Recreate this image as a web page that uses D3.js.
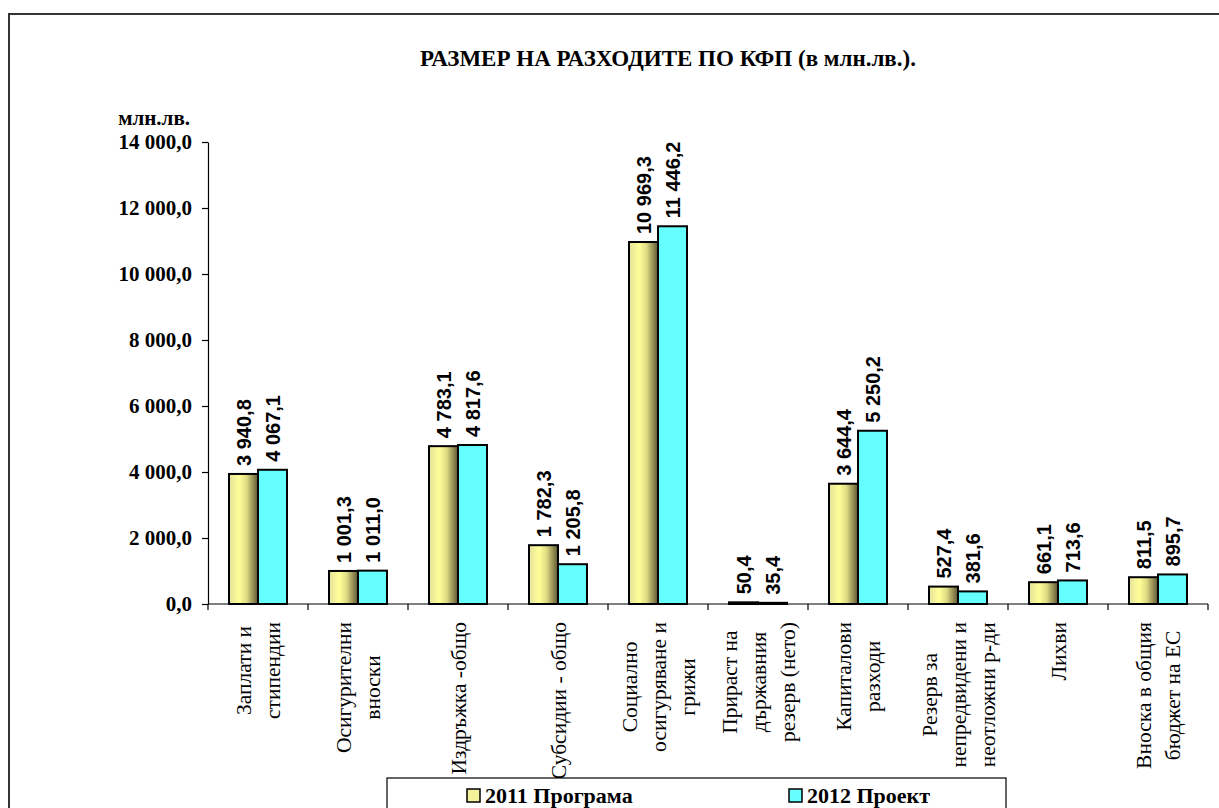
<!DOCTYPE html>
<html>
<head>
<meta charset="utf-8">
<script src="https://cdn.jsdelivr.net/npm/d3@7"></script>
<style>
body { margin: 0; background: #fff; }
</style>
</head>
<body>
<script>
// categories (line breaks as in the original axis labels)
var categories = [
	"Заплати и\nстипендии",
	"Осигурителни\nвноски",
	"Издръжка -общо",
	"Субсидии - общо",
	"Социално\nосигуряване и\nгрижи",
	"Прираст на\nдържавния\nрезерв (нето)",
	"Капиталови\nразходи",
	"Резерв за\nнепредвидени и\nнеотложни р-ди",
	"Лихви",
	"Вноска в общия\nбюджет на ЕС"
];
var seriesNames = ["2011 Програма", "2012 Проект"];
var values2011 = [3940.8, 1001.3, 4783.1, 1782.3, 10969.3, 50.4, 3644.4, 527.4, 661.1, 811.5];
var values2012 = [4067.1, 1011.0, 4817.6, 1205.8, 11446.2, 35.4, 5250.2, 381.6, 713.6, 895.7];
var yTicks = [0, 2000, 4000, 6000, 8000, 10000, 12000, 14000];

(function() {
var W = 1219, H = 808;
var serif = "'Liberation Serif', 'Times New Roman', serif";
var sans = "'Liberation Sans', Arial, sans-serif";

var locale = d3.formatLocale({decimal: ",", thousands: " ", grouping: [3], currency: ["", ""]});
var fmt = locale.format(",.1f");

var svg = d3.select("body").append("svg")
	.attr("width", W)
	.attr("height", H);

// gradient for the 2011 bars
var defs = svg.append("defs");
var grad = defs.append("linearGradient")
	.attr("id", "yellowGrad")
	.attr("x1", "0%").attr("x2", "100%")
	.attr("y1", "0%").attr("y2", "0%");
grad.append("stop").attr("offset", "0%").attr("stop-color", "#e4e19a");
grad.append("stop").attr("offset", "35%").attr("stop-color", "#ffff99");
grad.append("stop").attr("offset", "60%").attr("stop-color", "#e0dc84");
grad.append("stop").attr("offset", "100%").attr("stop-color", "#5e5632");

var colors = ["url(#yellowGrad)", "#66ffff"];

// outer frame
svg.append("rect")
	.attr("x", 9)
	.attr("y", 14)
	.attr("width", W + 20)
	.attr("height", H + 20)
	.attr("fill", "none")
	.attr("stroke", "#333")
	.attr("stroke-width", 2);

var pLeft = 208, pRight = 1208, pTop = 142, pBottom = 604;

var x0 = d3.scaleBand()
	.domain(categories)
	.range([pLeft, pRight])
	.paddingInner(0.42)
	.paddingOuter(0.21);

var x1 = d3.scaleBand()
	.domain([0, 1])
	.range([0, x0.bandwidth()]);

var y = d3.scaleLinear()
	.domain([0, 14000])
	.range([pBottom, pTop]);

var data = categories.map(function(c, i) {
	return {cat: c, vals: [values2011[i], values2012[i]]};
});

// title
svg.append("text")
	.attr("x", 668)
	.attr("y", 66)
	.attr("text-anchor", "middle")
	.attr("font-family", serif)
	.attr("font-weight", "bold")
	.attr("font-size", 23)
	.text("РАЗМЕР НА РАЗХОДИТЕ ПО КФП (в млн.лв.).");

// unit label
svg.append("text")
	.attr("x", 190)
	.attr("y", 125)
	.attr("text-anchor", "end")
	.attr("font-family", serif)
	.attr("font-weight", "bold")
	.attr("font-size", 21)
	.text("млн.лв.");

// y axis
var yAxis = svg.append("g")
	.attr("transform", "translate(" + pLeft + ",0)")
	.call(d3.axisLeft(y).tickValues(yTicks).tickFormat(fmt).tickSize(6).tickSizeOuter(0));
yAxis.select(".domain").attr("stroke", "#000").attr("stroke-width", 1.2);
yAxis.selectAll(".tick line").attr("stroke", "#000").attr("stroke-width", 1.2);
yAxis.selectAll(".tick text")
	.attr("x", -16)
	.attr("font-family", serif)
	.attr("font-weight", "bold")
	.attr("font-size", 21)
	.attr("fill", "#000");

// bars
var groups = svg.append("g").selectAll("g")
	.data(data)
	.enter().append("g")
	.attr("transform", function(d) { return "translate(" + x0(d.cat) + ",0)"; });

groups.selectAll("rect")
	.data(function(d) { return d.vals.map(function(v, k) { return {k: k, v: v}; }); })
	.enter().append("rect")
	.attr("x", function(d) { return x1(d.k); })
	.attr("y", function(d) { return y(d.v); })
	.attr("width", x1.bandwidth())
	.attr("height", function(d) { return pBottom - y(d.v); })
	.attr("fill", function(d) { return colors[d.k]; })
	.attr("stroke", "#000")
	.attr("stroke-width", 2);

// value labels
groups.selectAll("text.val")
	.data(function(d) { return d.vals.map(function(v, k) { return {k: k, v: v}; }); })
	.enter().append("text")
	.attr("class", "val")
	.attr("transform", function(d) {
		return "translate(" + (x1(d.k) + x1.bandwidth() / 2) + "," + (y(d.v) - 8) + ") rotate(-90)";
	})
	.attr("dy", "0.35em")
	.attr("text-anchor", "start")
	.attr("font-family", sans)
	.attr("font-weight", "bold")
	.attr("font-size", 20)
	.text(function(d) { return fmt(d.v); });

// x axis
var xAxis = svg.append("g")
	.attr("transform", "translate(0," + pBottom + ")");
xAxis.append("line")
	.attr("x1", pLeft).attr("x2", pRight)
	.attr("y1", 0).attr("y2", 0)
	.attr("stroke", "#000").attr("stroke-width", 1.2);
xAxis.selectAll("line.tk")
	.data(d3.range(categories.length + 1))
	.enter().append("line")
	.attr("class", "tk")
	.attr("x1", function(i) { return pLeft + i * x0.step(); })
	.attr("x2", function(i) { return pLeft + i * x0.step(); })
	.attr("y1", 0).attr("y2", 6)
	.attr("stroke", "#000").attr("stroke-width", 1.2);

// category labels, rotated, block top aligned below the axis
var lineGap = 29;
var labelTop = 622;
categories.forEach(function(c) {
	var lines = c.split("\n");
	var cx = x0(c) + x0.bandwidth() / 2;
	var g = svg.append("g");
	var texts = lines.map(function(l, i) {
		return g.append("text")
			.attr("text-anchor", "middle")
			.attr("dy", "0.35em")
			.attr("font-family", serif)
			.attr("font-size", 21.5)
			.text(l);
	});
	var maxLen = d3.max(texts, function(t) { return t.node().getComputedTextLength(); });
	texts.forEach(function(t, i) {
		var lx = cx + (i - (lines.length - 1) / 2) * lineGap;
		t.attr("transform", "translate(" + lx + "," + (labelTop + maxLen / 2) + ") rotate(-90)");
	});
});

// legend
var legend = svg.append("g");
legend.append("rect")
	.attr("x", 387)
	.attr("y", 778)
	.attr("width", 619)
	.attr("height", 60)
	.attr("fill", "#fff")
	.attr("stroke", "#000")
	.attr("stroke-width", 1.2);

var legX = [467, 789];
seriesNames.forEach(function(s, i) {
	legend.append("rect")
		.attr("x", legX[i])
		.attr("y", 789)
		.attr("width", 13)
		.attr("height", 13)
		.attr("fill", i === 0 ? "#f4f29a" : colors[1])
		.attr("stroke", "#000")
		.attr("stroke-width", 1.5);
	legend.append("text")
		.attr("x", legX[i] + 18)
		.attr("y", 803)
		.attr("font-family", serif)
		.attr("font-weight", "bold")
		.attr("font-size", 22)
		.text(s);
});
})();
</script>
</body>
</html>
